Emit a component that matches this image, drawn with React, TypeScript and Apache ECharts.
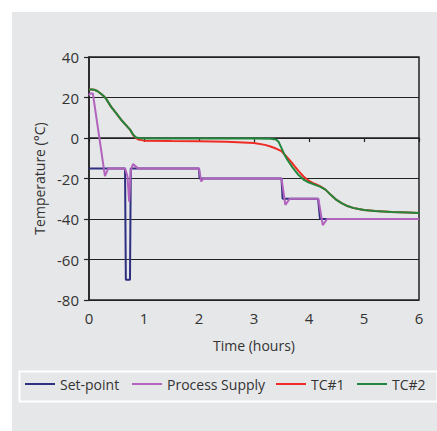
import React, { useEffect, useRef } from "react";
import * as echarts from "echarts";

const xTicks = [0, 1, 2, 3, 4, 5, 6];
const yTicks = [-80, -60, -40, -20, 0, 20, 40];

const setPointTime = [0, 0.655, 0.67, 0.745, 0.76, 2.0, 2.01, 3.5, 3.52, 4.165, 4.2, 6];
const setPointTemp = [-15, -15, -70, -70, -15, -15, -20, -20, -30, -30, -40, -40];

const supplyTime = [0, 0.02, 0.07, 0.29, 0.35, 0.655, 0.7, 0.73, 0.76, 0.8, 0.89, 2.0, 2.04, 2.08, 3.5, 3.57, 3.65, 4.17, 4.25, 4.33, 6];
const supplyTemp = [21, 22, 22, -18.8, -15, -15, -19, -31.5, -16, -12.9, -15, -15, -21.5, -20, -20, -33, -30, -30, -43, -40, -40];

const tc1Time = [0, 0.05, 0.1, 0.15, 0.2, 0.25, 0.3, 0.4, 0.5, 0.6, 0.7, 0.75, 0.8, 0.85, 0.9, 1.0, 1.5, 2.0, 2.5, 3.0, 3.2, 3.3, 3.4, 3.5, 3.6, 3.7, 3.8, 3.9, 4.0, 4.1, 4.2, 4.3, 4.4, 4.5, 4.6, 4.7, 4.8, 4.9, 5.0, 5.2, 5.5, 5.8, 6.0];
const tc1Temp = [24, 24, 23.8, 23.2, 22.2, 21.1, 19.8, 15.5, 12, 8.5, 5.5, 4, 1.6, 0, -0.8, -1.3, -1.5, -1.6, -1.9, -2.5, -3.4, -4.2, -5.2, -6.5, -9.5, -12.6, -16, -19, -21.2, -22.6, -23.8, -25.5, -28.2, -30.6, -32.3, -33.6, -34.5, -35.1, -35.5, -36.1, -36.5, -36.8, -37];

const tc2Time = [0, 0.05, 0.1, 0.15, 0.2, 0.25, 0.3, 0.4, 0.5, 0.6, 0.7, 0.75, 0.8, 0.85, 0.9, 1.0, 1.5, 2.0, 2.5, 3.0, 3.3, 3.4, 3.45, 3.5, 3.55, 3.6, 3.7, 3.8, 3.9, 4.0, 4.1, 4.2, 4.3, 4.4, 4.5, 4.6, 4.7, 4.8, 4.9, 5.0, 5.2, 5.5, 5.8, 6.0];
const tc2Temp = [24, 24, 23.8, 23.2, 22.2, 21.1, 19.8, 15.5, 12, 8.5, 5.5, 4, 1.8, 0.4, 0, -0.3, -0.3, -0.3, -0.3, -0.3, -0.4, -0.8, -2, -5, -8, -10.5, -14.5, -18, -20.5, -22, -23, -24, -25.5, -28.2, -30.6, -32.3, -33.6, -34.5, -35.1, -35.5, -36.1, -36.5, -36.8, -37];

const seriesNames = ["Set-point", "Process Supply", "TC#1", "TC#2"];
const seriesColors = ["#2e2f80", "#b163be", "#ee2b24", "#21873d"];
const legendLefts = [25, 132, 276, 357];

const zip = (t: number[], v: number[]) => t.map((x, i) => [x, v[i]]);

export default function App() {
  const ref = useRef<HTMLDivElement>(null);
  useEffect(() => {
    if (!ref.current) return;
    const chart = echarts.init(ref.current, null, { renderer: "svg" });
    const font = "Open Sans";
    const textColor = "#333333";
    const data = [
      zip(setPointTime, setPointTemp),
      zip(supplyTime, supplyTemp),
      zip(tc1Time, tc1Temp),
      zip(tc2Time, tc2Temp),
    ];
    chart.setOption({
      animation: false,
      textStyle: { fontFamily: font },
      graphic: [
        { type: "rect", left: 12, top: 12, shape: { x: 0, y: 0, width: 425, height: 419 }, style: { fill: "#e6e7e8" }, z: -10 },
        { type: "rect", left: 17, top: 369, shape: { x: 0, y: 0, width: 418, height: 30 }, style: { fill: "none", stroke: "#ffffff", lineWidth: 2 }, z: -5 },
      ],
      grid: {
        left: 89, right: 18, top: 57, bottom: 131,
        show: true, borderColor: "#222222", borderWidth: 1.5, backgroundColor: "transparent",
      },
      legend: seriesNames.map((n, i) => ({
        data: [{ name: n, icon: "rect" }],
        left: legendLefts[i],
        top: 377,
        itemWidth: 30,
        itemHeight: 2,
        itemGap: 5,
        padding: 0,
        textStyle: { fontFamily: font, fontSize: 14, color: textColor },
      })),
      xAxis: {
        type: "value",
        min: xTicks[0],
        max: xTicks[xTicks.length - 1],
        interval: 1,
        name: "Time (hours)",
        nameLocation: "middle",
        nameGap: 38,
        nameTextStyle: { fontFamily: font, fontSize: 14, color: textColor },
        axisLine: { show: true, lineStyle: { color: "#222222", width: 1.5 } },
        axisTick: { show: true, length: 4, lineStyle: { color: "#222222", width: 1.2 } },
        axisLabel: { margin: 10, fontSize: 15, color: textColor, fontFamily: font },
        splitLine: { show: false },
      },
      yAxis: {
        type: "value",
        min: yTicks[0],
        max: yTicks[yTicks.length - 1],
        interval: 20,
        name: "Temperature (°C)",
        nameLocation: "middle",
        nameGap: 42,
        nameTextStyle: { fontFamily: font, fontSize: 14, color: textColor },
        axisLine: { show: true, lineStyle: { color: "#222222", width: 1.5 } },
        axisTick: { show: true, length: 5, lineStyle: { color: "#222222", width: 1.2 } },
        axisLabel: { margin: 10, fontSize: 15, color: textColor, fontFamily: font },
        splitLine: { show: true, lineStyle: { color: "#222222", width: 1.2 } },
      },
      series: seriesNames.map((n, i) => ({
        name: n,
        type: "line",
        data: data[i],
        symbol: "none",
        showSymbol: false,
        smooth: false,
        lineStyle: { color: seriesColors[i], width: 2 },
        itemStyle: { color: seriesColors[i] },
        z: 2 + i,
      })),
    });
    return () => chart.dispose();
  }, []);
  return <div ref={ref} style={{ position: "absolute", left: 0, top: 0, width: 437, height: 431 }} />;
}
